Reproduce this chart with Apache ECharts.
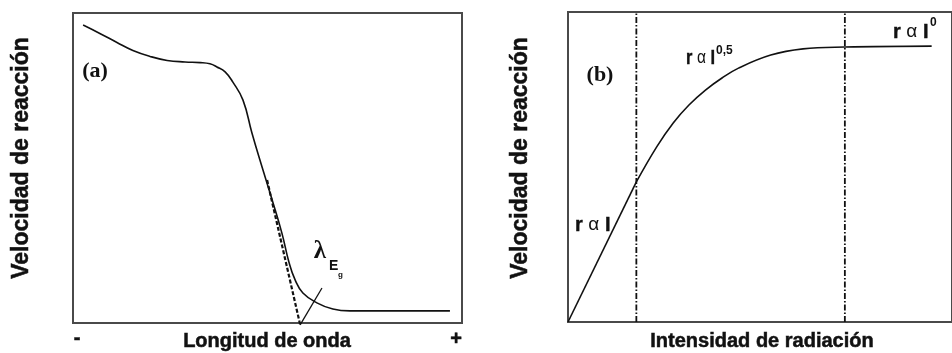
<!DOCTYPE html>
<html><head><meta charset="utf-8">
<script src="https://cdn.jsdelivr.net/npm/echarts@6/dist/echarts.min.js"></script>
<style>html,body{margin:0;padding:0;background:#fff}#c{width:952px;height:353px}</style>
</head><body><div id="c"></div>
<script>
// Panel (a): reaction rate vs wavelength (relative units 0-100)
const waveX = [2.6, 6.9, 11.3, 15.4, 19.8, 24.2, 28.8, 32.7, 35.2, 37.0, 39.1, 41.1, 43.7, 46.0, 48.6, 51.2, 53.7, 55.5, 57.1, 59.1, 62.7, 66.8, 71.2, 96.9];
const rateA = [96.1, 93.4, 90.5, 87.9, 86.0, 84.7, 84.2, 84.0, 83.6, 82.6, 81.0, 77.7, 71.9, 61.3, 50.3, 39.7, 29.0, 19.7, 13.9, 9.7, 6.5, 4.5, 3.9, 3.9];
const tangentX = [49.9, 58.4];
const tangentY = [46.1, -0.6];
const edgeMarkX = [58.4, 64.0];
const edgeMarkY = [-0.6, 11.3];
// Panel (b): reaction rate vs radiation intensity
const linearX = [0, 17.8];
const linearY = [0, 45.2];
const intensX = [17.8, 23.1, 27.4, 31.5, 35.8, 40.1, 44.4, 52.8, 61.2, 72.1, 94.7];
const rateB = [45.2, 56.5, 64.2, 70.0, 74.8, 78.7, 81.9, 86.1, 88.1, 88.7, 89.0];
const regimeBounds = [17.8, 72.1];
// Texts
const yTitle = 'Velocidad de reacción';
const xTitleA = 'Longitud de onda';
const xTitleB = 'Intensidad de radiación';

function zip(xs, ys) { return xs.map((x, i) => [x, ys[i]]); }

const chart = echarts.init(document.getElementById('c'));
const SANS = '"Liberation Sans", Arial, sans-serif';
const SERIF = '"Liberation Serif", "Times New Roman", serif';
function txt(x, y, text, font, extra) {
  const e = extra || {};
  return {
    type: 'text', x: x, y: y, rotation: e.rotation || 0, scaleX: e.scaleX || 1, scaleY: e.scaleY || 1,
    z: 10,
    style: { text: text, font: font, fill: '#111', stroke: e.stroke || null, lineWidth: e.lw || 0,
      align: e.align || 'center', verticalAlign: 'middle', rich: e.rich }
  };
}
const lineBase = { type: 'line', symbol: 'none', silent: true, lineStyle: { color: '#111', width: 1.6 } };
const gridBorder = { show: true, borderColor: '#4a4a4a', borderWidth: 2, backgroundColor: 'transparent' };

const series = [
  Object.assign({}, lineBase, { xAxisIndex: 0, yAxisIndex: 0, smooth: 0.45, data: zip(waveX, rateA) }),
  Object.assign({}, lineBase, { xAxisIndex: 0, yAxisIndex: 0, clip: false, data: zip(tangentX, tangentY),
    lineStyle: { color: '#111', width: 2.2, type: [4, 2] } }),
  Object.assign({}, lineBase, { xAxisIndex: 0, yAxisIndex: 0, clip: false, data: zip(edgeMarkX, edgeMarkY),
    lineStyle: { color: '#111', width: 1.3 } }),
  Object.assign({}, lineBase, { xAxisIndex: 1, yAxisIndex: 1, data: zip(linearX, linearY) }),
  Object.assign({}, lineBase, { xAxisIndex: 1, yAxisIndex: 1, smooth: 0.4, data: zip(intensX, rateB) })
];
regimeBounds.forEach(b => {
  series.push(Object.assign({}, lineBase, { xAxisIndex: 1, yAxisIndex: 1, data: [[b, 0], [b, 100]],
    lineStyle: { color: '#111', width: 1.8, type: [6, 2, 1.5, 2] } }));
});

const richAlpha = {
  b: { font: 'bold 20px ' + SANS, fill: '#111', stroke: '#111', lineWidth: 0.4 },
  a: { font: '19px ' + SANS, fill: '#111' }
};
const thick = { stroke: '#111', lw: 0.5 };

chart.setOption({
  animation: false,
  grid: [
    Object.assign({ left: 73, top: 13, width: 389, height: 310 }, gridBorder),
    Object.assign({ left: 568, top: 12, width: 394, height: 310 }, gridBorder)
  ],
  xAxis: [
    { gridIndex: 0, type: 'value', min: 0, max: 100, show: false },
    { gridIndex: 1, type: 'value', min: 0, max: 100, show: false }
  ],
  yAxis: [
    { gridIndex: 0, type: 'value', min: 0, max: 100, show: false },
    { gridIndex: 1, type: 'value', min: 0, max: 100, show: false }
  ],
  series: series,
  graphic: [
    txt(22, 158, yTitle, 'bold 23px ' + SANS, Object.assign({ rotation: Math.PI / 2 }, thick)),
    txt(521, 158, yTitle, 'bold 23px ' + SANS, Object.assign({ rotation: Math.PI / 2 }, thick)),
    txt(267, 341, xTitleA, 'bold 20px ' + SANS, thick),
    txt(762, 341, xTitleB, 'bold 20px ' + SANS, thick),
    txt(77, 338, '-', 'bold 20px ' + SANS, thick),
    txt(456, 339, '+', 'bold 20px ' + SANS, thick),
    txt(95, 71, '(a)', 'bold 22px ' + SERIF),
    txt(600, 75, '(b)', 'bold 22px ' + SERIF),
    txt(320, 252, 'λ', 'bold 25px ' + SERIF),
    txt(329, 266, 'E', 'bold 14px ' + SANS, { align: 'left' }),
    txt(338, 275, 'g', 'bold 8px ' + SANS, { align: 'left' }),
    txt(575, 225, '{b|r }{a|α}{b| I}', 'bold 20px ' + SANS, { align: 'left', rich: richAlpha }),
    txt(686, 58, '{b|r }{a|α}{b| I}', 'bold 20px ' + SANS, { align: 'left', rich: richAlpha, scaleX: 0.82 }),
    txt(716, 51, '0,5', 'bold 12px ' + SANS, { align: 'left' }),
    txt(893, 32, '{b|r }{a|α}{b| I}', 'bold 20px ' + SANS, { align: 'left', rich: richAlpha }),
    txt(930, 23, '0', 'bold 12px ' + SANS, { align: 'left' })
  ]
});
</script>
</body></html>
